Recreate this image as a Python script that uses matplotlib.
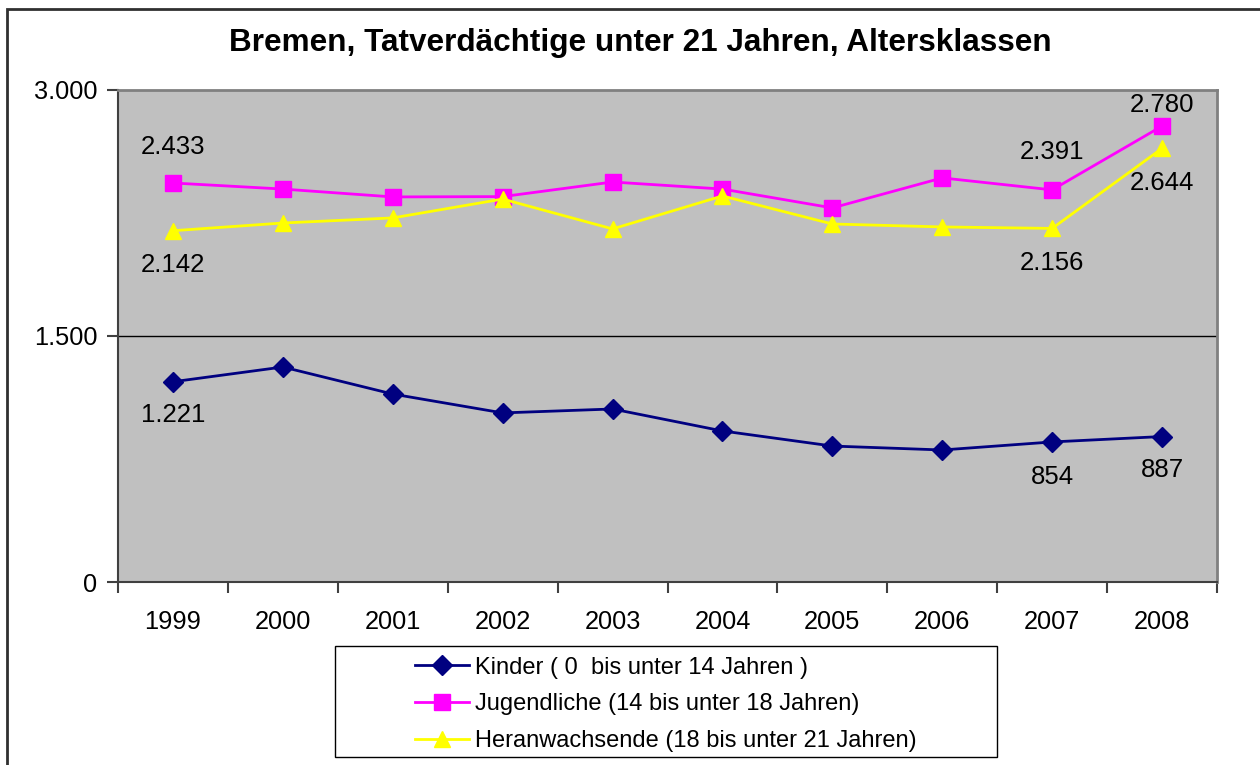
import matplotlib
matplotlib.use("Agg")
import matplotlib.pyplot as plt
from matplotlib.patches import Rectangle
from matplotlib.ticker import FixedLocator, FuncFormatter

plt.rcParams['font.family'] = ['Liberation Sans', 'DejaVu Sans']

years = ['1999', '2000', '2001', '2002', '2003', '2004', '2005', '2006', '2007', '2008']
kinder = [1221, 1311, 1146, 1031, 1055, 921, 829, 805, 854, 887]
jugendliche = [2433, 2396, 2348, 2350, 2439, 2396, 2281, 2464, 2391, 2780]
heranwachsende = [2142, 2189, 2220, 2335, 2153, 2354, 2183, 2165, 2156, 2644]

series_names = ['Kinder ( 0  bis unter 14 Jahren )',
                'Jugendliche (14 bis unter 18 Jahren)',
                'Heranwachsende (18 bis unter 21 Jahren)']

# which points carry a value label: (index, offset in points)
labels_kinder = [(0, -24), (8, -25), (9, -24)]
labels_jug = [(0, 26), (8, 27), (9, 15)]
labels_her = [(0, -25), (8, -25), (9, -25)]


def de_fmt(v, pos=None):
    return f"{int(v):,}".replace(',', '.')


fig = plt.figure(figsize=(12.6, 7.65), dpi=100)
ax = fig.add_axes([118 / 1260, 1 - 582 / 765, (1217 - 118) / 1260, (582 - 90) / 765])
ax.set_facecolor('#C0C0C0')

x = list(range(len(years)))
l1, = ax.plot(x, kinder, color='#000080', lw=2, marker='D', ms=10, zorder=3)
l2, = ax.plot(x, jugendliche, color='#FF00FF', lw=2, marker='s', ms=11, zorder=3)
l3, = ax.plot(x, heranwachsende, color='#FFFF00', lw=2, marker='^', ms=12, zorder=3)

for vals, labs in ((kinder, labels_kinder), (jugendliche, labels_jug), (heranwachsende, labels_her)):
    for i, off in labs:
        ax.annotate(de_fmt(vals[i]), (x[i], vals[i]), xytext=(0, off),
                    textcoords='offset points', ha='center', va='center',
                    fontsize=18.5, color='black', zorder=4)

ax.set_xlim(-0.5, len(years) - 0.5)
ax.set_ylim(0, 3000)

ax.set_yticks([0, 1500, 3000])
ax.yaxis.set_major_formatter(FuncFormatter(de_fmt))
ax.axhline(1500, color='black', lw=1, zorder=1)

# category labels in the middle, tick marks between categories
ax.set_xticks(x)
ax.set_xticklabels(years)
ax.xaxis.set_minor_locator(FixedLocator([i - 0.5 for i in range(len(years) + 1)]))
ax.tick_params(axis='x', which='major', length=0, pad=20, labelsize=18.3)
ax.tick_params(axis='x', which='minor', length=8, width=1.5, color='#404040', direction='out')
ax.tick_params(axis='y', length=8, width=1.5, color='#404040', direction='out', pad=7, labelsize=18.3)

for s in ('left', 'bottom'):
    ax.spines[s].set_color('#404040')
    ax.spines[s].set_linewidth(1.5)
for s in ('top', 'right'):
    ax.spines[s].set_color('#808080')
    ax.spines[s].set_linewidth(2)

fig.text(0.508, 1 - 43 / 765, 'Bremen, Tatverdächtige unter 21 Jahren, Altersklassen',
         ha='center', va='center', fontsize=22.7, fontweight='bold')

# legend box and entries
fig.patches.append(Rectangle((335 / 1260, 1 - 757 / 765), (997 - 335) / 1260, (757 - 646) / 765,
                             transform=fig.transFigure, fill=False, ec='black', lw=1))
fig.legend([l1, l2, l3], series_names, loc='upper left',
           bbox_to_anchor=(398 / 1260, 1 - 640 / 765), frameon=False, fontsize=17,
           handlelength=2.3, handletextpad=0.25, labelspacing=0.63, borderpad=0.2)

# outer chart frame
fig.patches.append(Rectangle((7 / 1260, -0.05), 1.2, 1 - 9 / 765 + 0.05,
                             transform=fig.transFigure, fill=False, ec='#303030', lw=2))

fig.savefig('out.png', dpi=100)
